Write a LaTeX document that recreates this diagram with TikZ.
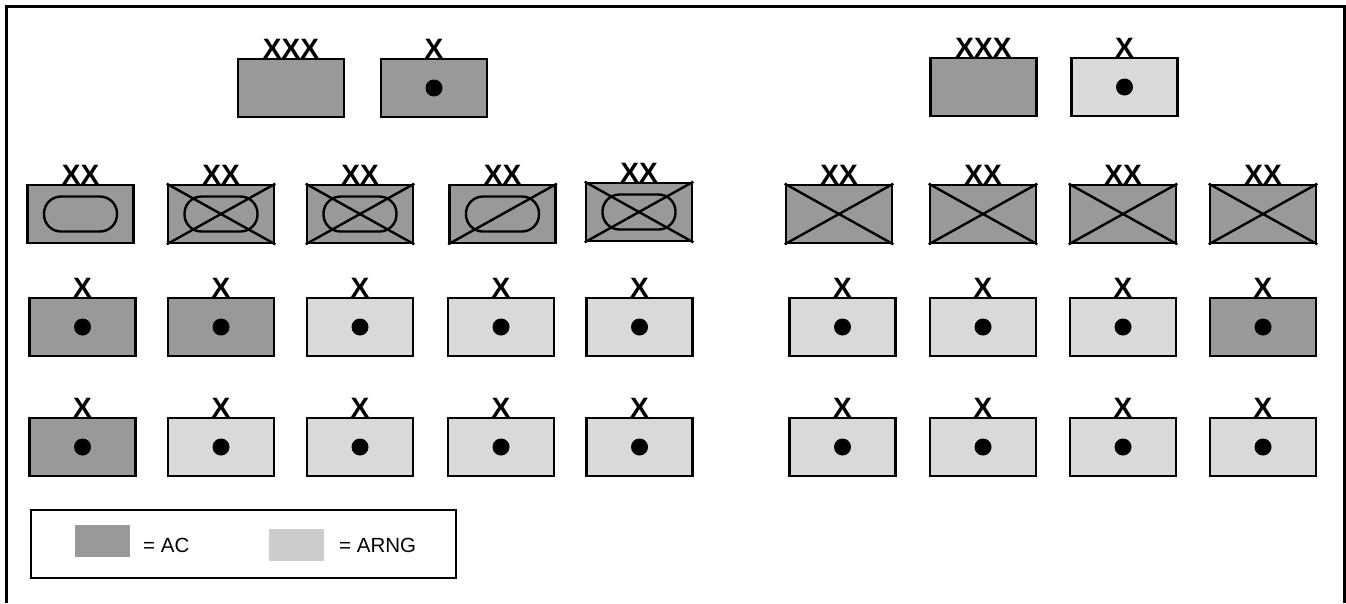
\documentclass[tikz,border=0pt]{standalone}
\usepackage{fontspec}
\setmainfont{Liberation Sans}
\definecolor{acgray}{HTML}{999999}
\definecolor{nggray}{HTML}{D9D9D9}
\definecolor{keygray}{HTML}{CCCCCC}
\begin{document}
\begin{tikzpicture}
        [
            x = 1pt, y = -1pt,
            unit/.style={draw, line width=2.6pt, minimum width=106pt, minimum height=58pt, inner sep=0pt},
            ac/.style={unit, fill=acgray},
            ng/.style={unit, fill=nggray},
            echelon/.style={anchor=south, inner sep=0pt, font=\fontsize{28}{28}\selectfont\bfseries},
            hq/.style={circle, fill=black, minimum size=17pt, inner sep=0pt},
            armor/.style={draw, line width=2.4pt, rounded corners=17pt, minimum width=73pt, minimum height=35pt, inner sep=0pt},
            cross/.style={line width=2.4pt},
            keytext/.style={anchor=west, inner sep=0pt, font=\fontsize{20.5}{20.5}\selectfont},
        ]
        \useasboundingbox (0,0) rectangle (1346,603);
        \draw[line width=3pt] (6,603) -- (6,6) -- (1344,6) -- (1344,603);

        % corps and separate brigade, left
        \node[ac] (corpsA) at (291,88) {};
        \node[echelon] (corpsAe) at ([yshift=-1pt]corpsA.north) {XXX};
        \node[ac] (sepA) at (434,88) {};
        \node[echelon] (sepAe) at ([yshift=-1pt]sepA.north) {X};
        \node[hq] (sepAd) at (sepA) {};

        % corps and separate brigade, right
        \node[ac] (corpsB) at (983.5,87) {};
        \node[echelon] (corpsBe) at ([yshift=-1pt]corpsB.north) {XXX};
        \node[ng] (sepB) at (1124.5,87) {};
        \node[echelon] (sepBe) at ([yshift=-1pt]sepB.north) {X};
        \node[hq] (sepBd) at (sepB) {};

        % divisions, left
        \node[ac] (divA) at (80.5,214) {};
        \node[armor] (divAo) at (divA) {};
        \node[ac] (divB) at (221,214) {};
        \draw[cross] (divB.north west) -- (divB.south east) (divB.south west) -- (divB.north east);
        \node[armor] (divBo) at (divB) {};
        \node[ac] (divC) at (360,214) {};
        \draw[cross] (divC.north west) -- (divC.south east) (divC.south west) -- (divC.north east);
        \node[armor] (divCo) at (divC) {};
        \node[ac] (divD) at (502.5,214) {};
        \node[armor] (divDo) at (divD) {};
        \draw[cross] (divD.south west) -- (divD.north east);
        \node[ac] (divE) at (639,212) {};
        \draw[cross] (divE.north west) -- (divE.south east) (divE.south west) -- (divE.north east);
        \node[armor] (divEo) at (divE) {};
        \foreach \n in {divA,divB,divC,divD,divE}
            \node[echelon] (\n e) at ([yshift=-1pt]\n.north) {XX};

        % divisions, right
        \foreach \x [count=\i] in {839,983,1123,1263} {
            \node[ac] (divR\i) at (\x,214) {};
            \draw[cross] (divR\i.north west) -- (divR\i.south east) (divR\i.south west) -- (divR\i.north east);
            \node[echelon] (divR\i e) at ([yshift=-1pt]divR\i.north) {XX};
        }

        % brigades
        \foreach \x/\s [count=\i] in {82.5/ac,221/ac,360/ng,501/ng,639.5/ng,842.5/ng,983/ng,1123/ng,1263/ac} {
            \node[\s] (bdeA\i) at (\x,327) {};
            \node[echelon] (bdeA\i e) at ([yshift=-1pt]bdeA\i.north) {X};
            \node[hq] (bdeA\i d) at (bdeA\i) {};
        }
        \foreach \x/\s [count=\i] in {82.5/ac,221/ng,360/ng,501/ng,639.5/ng,842.5/ng,983/ng,1123/ng,1263/ng} {
            \node[\s] (bdeB\i) at (\x,447) {};
            \node[echelon] (bdeB\i e) at ([yshift=-1pt]bdeB\i.north) {X};
            \node[hq] (bdeB\i d) at (bdeB\i) {};
        }

        % key
        \node[draw, line width=1.5pt, minimum width=425pt, minimum height=68pt, inner sep=0pt] (key) at (243.5,544) {};
        \node[fill=acgray, minimum width=55pt, minimum height=32pt, inner sep=0pt] (keyac) at (102.5,541) {};
        \node[keytext] (keyact) at (143,545) {= AC};
        \node[fill=keygray, minimum width=55pt, minimum height=32pt, inner sep=0pt] (keyng) at (296.5,545) {};
        \node[keytext] (keyngt) at (339,545) {= ARNG};
    \end{tikzpicture}
\end{document}
